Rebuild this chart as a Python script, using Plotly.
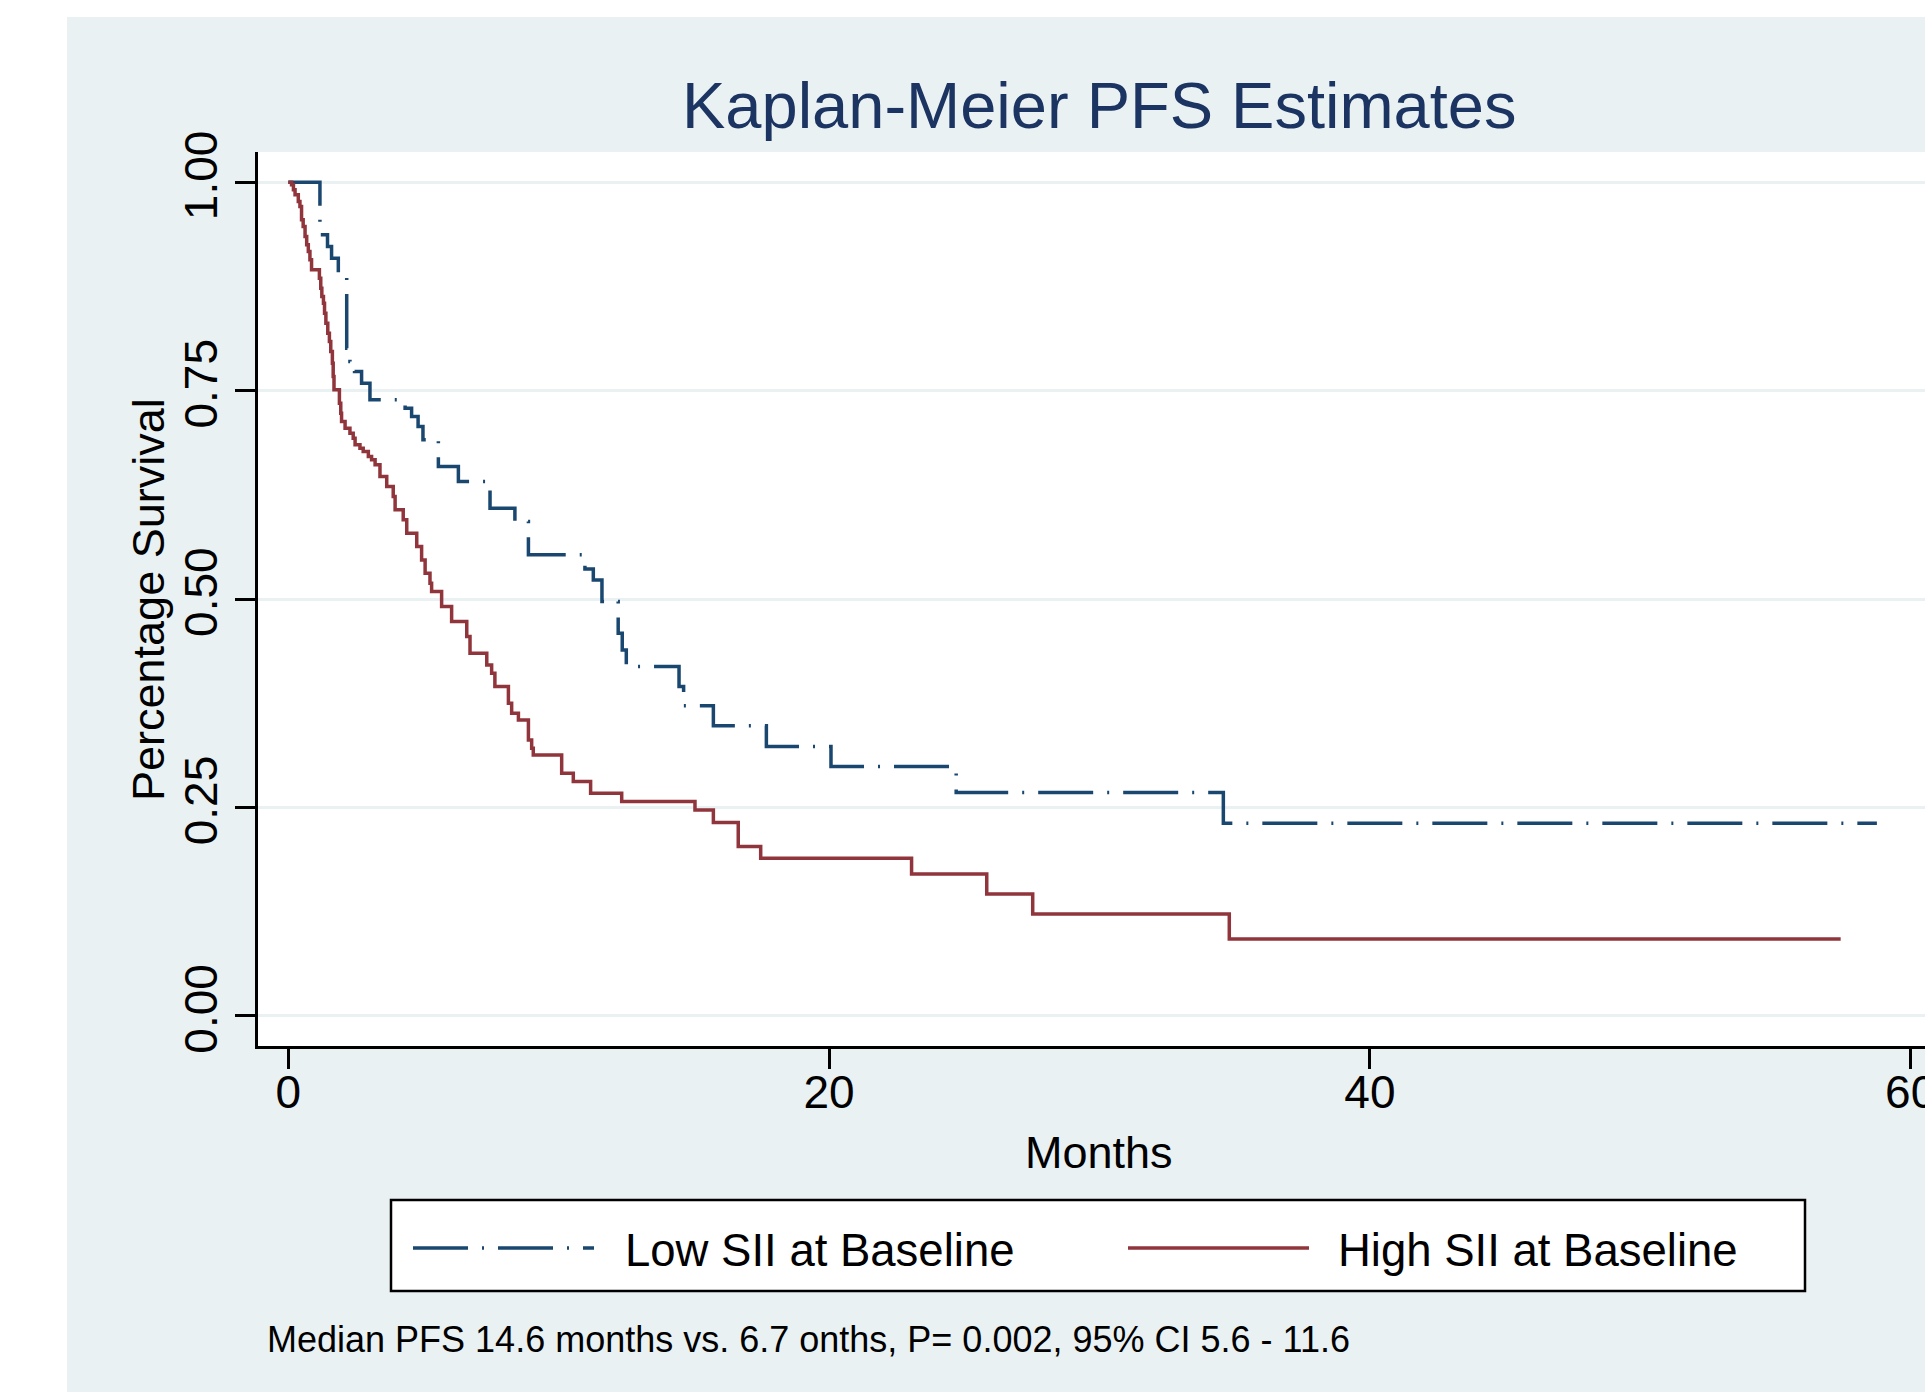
import plotly.graph_objects as go

# ---------------- data ----------------
low_time = [0, 1.17, 1.45, 1.60, 1.85, 2.16, 2.28, 2.45, 2.71, 3.02, 4.32, 4.56, 4.80,
            4.98, 5.55, 6.29, 7.46, 8.38, 8.88, 10.97, 11.28, 11.60, 12.20, 12.35,
            12.50, 14.45, 14.62, 15.72, 17.68, 20.07, 24.70, 34.58, 58.75]
low_surv = [1.0, .937, .923, .909, .891, .801, .785, .773, .759, .739, .729, .719, .707,
            .691, .659, .641, .609, .593, .553, .536, .523, .497, .459, .439,
            .419, .395, .372, .348, .323, .299, .268, .231, .231]

high_time = [0, 0.12, 0.19, 0.25, 0.37, 0.43, 0.49, 0.55, 0.62, 0.68, 0.74, 0.80, 0.86,
             1.15, 1.20, 1.24, 1.30, 1.34, 1.39, 1.46, 1.52, 1.57, 1.63, 1.66, 1.69,
             1.89, 1.94, 1.97, 2.10, 2.28, 2.40, 2.47, 2.65, 2.77, 2.96, 3.08, 3.21,
             3.39, 3.64, 3.88, 3.95, 4.25, 4.38, 4.75, 4.93, 5.06, 5.24, 5.30, 5.67,
             6.04, 6.60, 6.72, 7.34, 7.52, 7.64, 8.14, 8.26, 8.51, 8.88, 9.00, 9.06,
             10.11, 10.54, 11.18, 12.33, 15.04, 15.72, 16.64, 17.47, 23.05, 25.83,
             27.53, 34.80, 57.41]
high_surv = [1.0, .997, .991, .985, .977, .971, .955, .947, .935, .925, .917, .907, .895,
             .885, .873, .863, .855, .843, .831, .819, .809, .797, .783, .767, .751,
             .735, .723, .713, .705, .699, .693, .685, .681, .677, .671, .667, .661,
             .647, .635, .623, .607, .595, .579, .563, .547, .531, .519, .509, .491,
             .473, .455, .435, .421, .411, .395, .375, .363, .355, .331, .321, .313,
             .291, .281, .267, .257, .247, .232, .203, .189, .170, .146, .122, .092, .092]

x_ticks = [0, 20, 40, 60]
x_tick_text = ["0", "20", "40", "60"]
y_ticks = [0, 0.25, 0.5, 0.75, 1.0]
y_tick_text = ["0.00", "0.25", "0.50", "0.75", "1.00"]

series_names = ["Low SII at Baseline", "High SII at Baseline"]
title_text = "Kaplan-Meier PFS Estimates"
x_title = "Months"
y_title = "Percentage Survival"
caption = "Median PFS 14.6 months vs. 6.7 onths, P= 0.002, 95% CI 5.6 - 11.6"

# ---------------- style ----------------
W, H = 1925, 1392
L, R, T, B = 258, 0, 152, 346
plot_w = W - L - R
plot_h = H - T - B
FONT = "Liberation Sans, Arial, Helvetica, sans-serif"
NAVY = "#1A476F"
MAROON = "#90353B"
BG = "#E9F1F3"
DASHDOT = "55px,14px,2px,14px"


def xp(px):
    return (px - L) / plot_w


def yp(py):
    return (H - B - py) / plot_h


fig = go.Figure()
fig.add_trace(go.Scatter(x=low_time, y=low_surv, mode="lines", line_shape="hv",
                         name=series_names[0],
                         line=dict(color=NAVY, width=3.5, dash=DASHDOT)))
fig.add_trace(go.Scatter(x=high_time, y=high_surv, mode="lines", line_shape="hv",
                         name=series_names[1],
                         line=dict(color=MAROON, width=3.5)))

shapes = [
    # white outer strips (left and top)
    dict(type="rect", xref="paper", yref="paper", x0=xp(0), x1=xp(67), y0=yp(H), y1=yp(0),
         fillcolor="white", line=dict(width=0), layer="below"),
    dict(type="rect", xref="paper", yref="paper", x0=xp(0), x1=xp(W), y0=yp(17), y1=yp(0),
         fillcolor="white", line=dict(width=0), layer="below"),
    # legend box
    dict(type="rect", xref="paper", yref="paper", x0=xp(391), x1=xp(1805), y0=yp(1291), y1=yp(1200),
         fillcolor="white", line=dict(color="black", width=2.5), layer="above"),
    dict(type="line", xref="paper", yref="paper", x0=xp(413), x1=xp(594), y0=yp(1248), y1=yp(1248),
         line=dict(color=NAVY, width=3.5, dash=DASHDOT), layer="above"),
    dict(type="line", xref="paper", yref="paper", x0=xp(1128), x1=xp(1309), y0=yp(1248), y1=yp(1248),
         line=dict(color=MAROON, width=3.5), layer="above"),
]

annotations = [
    dict(text=title_text, x=xp(1099), y=yp(106), xref="paper", yref="paper",
         xanchor="center", yanchor="middle", showarrow=False,
         font=dict(family=FONT, size=65, color="#1C3461")),
    dict(text=x_title, x=xp(1099), y=yp(1152), xref="paper", yref="paper",
         xanchor="center", yanchor="middle", showarrow=False,
         font=dict(family=FONT, size=45, color="black")),
    dict(text=y_title, x=xp(148), y=yp(600), xref="paper", yref="paper",
         xanchor="center", yanchor="middle", showarrow=False, textangle=-90,
         font=dict(family=FONT, size=45, color="black")),
    dict(text=series_names[0], x=xp(623), y=yp(1250), xref="paper", yref="paper",
         xanchor="left", yanchor="middle", showarrow=False,
         font=dict(family=FONT, size=45.5, color="black")),
    dict(text=series_names[1], x=xp(1336), y=yp(1250), xref="paper", yref="paper",
         xanchor="left", yanchor="middle", showarrow=False,
         font=dict(family=FONT, size=45.5, color="black")),
    dict(text=caption, x=xp(265), y=yp(1339), xref="paper", yref="paper",
         xanchor="left", yanchor="middle", showarrow=False,
         font=dict(family=FONT, size=36, color="black")),
]

px_per_month = 27.04
x0_px = 288.3
x_range = [-(x0_px - L) / px_per_month, (W - R - x0_px) / px_per_month]
px_per_unit = 833.5
y0_px = 1015.8
y_range = [-(H - B - y0_px) / px_per_unit, (y0_px - T) / px_per_unit]

fig.update_layout(
    width=W, height=H,
    margin=dict(l=L, r=R, t=T, b=B, pad=0),
    paper_bgcolor=BG, plot_bgcolor="white",
    showlegend=False,
    shapes=shapes, annotations=annotations,
    font=dict(family=FONT, color="black"),
    xaxis=dict(range=x_range, tickvals=x_ticks, ticktext=x_tick_text,
               showgrid=False, zeroline=False, showline=True, linecolor="black",
               linewidth=2.5, ticks="outside", ticklen=20, tickwidth=2.5, tickcolor="black",
               tickfont=dict(family=FONT, size=46, color="black"), automargin=False,
               ticklabelstandoff=-16, ticklabeloverflow="allow"),
    yaxis=dict(range=y_range, tickvals=y_ticks, ticktext=y_tick_text,
               showgrid=True, gridcolor=BG, gridwidth=2.5, zeroline=False,
               showline=True, linecolor="black", linewidth=2.5, ticks="outside",
               ticklen=20, tickwidth=2.5, tickcolor="black", tickangle=-90,
               tickfont=dict(family=FONT, size=46, color="black"), automargin=False),
)

fig.write_html("out.html")
